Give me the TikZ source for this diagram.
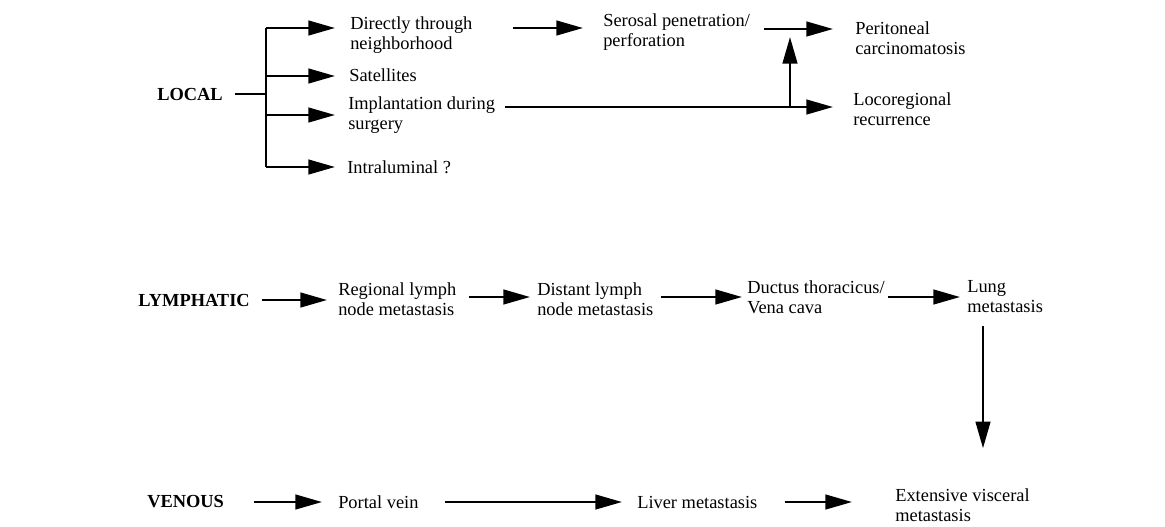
\documentclass[tikz,border=0pt]{standalone}
\usepackage{fontspec}
\setmainfont{Liberation Serif}
\usetikzlibrary{arrows.meta,positioning,calc}

\begin{document}
\begin{tikzpicture}[x=0.75pt, y=-0.75pt,
  lbl/.style={anchor=west, align=left, inner sep=0pt, font=\fontsize{13.8}{15}\selectfont},
  head/.style={lbl, font=\fontsize{13.8}{15}\selectfont\bfseries},
  line/.style={line width=1.8pt},
  arr/.style={line, -{Triangle[length=20pt, width=11pt]}}
]
  \useasboundingbox (0,0) rectangle (1165,526);

  % local spread
  \node[head] (local) at (157,94) {LOCAL};
  \node[lbl] (direct) at (350,35) {Directly through\\neighborhood};
  \node[lbl] (satel) at (349,75) {Satellites};
  \node[lbl] (implant) at (348,115) {Implantation during\\surgery};
  \node[lbl] (intral) at (347,167) {Intraluminal ?};
  \node[lbl] (serosal) at (603,32) {Serosal penetration/\\perforation};
  \node[lbl] (perit) at (855,38) {Peritoneal\\carcinomatosis};
  \node[lbl] (locoreg) at (853,109) {Locoregional\\recurrence};

  \coordinate (fork) at (266,94);
  \coordinate (ftop) at (266,28);
  \coordinate (fsat) at (266,76);
  \coordinate (fimp) at (266,115);
  \coordinate (fbot) at (266,167);
  \coordinate (split) at (790,107);

  \draw[line] ($(local.east)+(12,0)$) -- (fork);
  \draw[line] (ftop) -- (fbot);
  \draw[arr] (ftop) -- ($(direct.west)+(-15,-7)$);
  \draw[arr] (fsat) -- ($(satel.west)+(-14,1)$);
  \draw[arr] (fimp) -- ($(implant.west)+(-13,0)$);
  \draw[arr] (fbot) -- ($(intral.west)+(-12,0)$);
  \draw[arr] ($(direct.east)+(40,-7)$) -- ($(serosal.west)+(-20,-4)$);
  \draw[arr] ($(serosal.east)+(14,-3)$) -- ($(perit.west)+(-22,-9)$);
  \draw[arr] ($(implant.east)+(10,-8)$) -- ($(locoreg.west)+(-20,-2)$);
  \draw[arr] (split) -- ++(0,-70);

  % lymphatic spread
  \node[head] (lymph) at (138,300) {LYMPHATIC};
  \node[lbl] (regional) at (338,299) {Regional lymph\\node metastasis};
  \node[lbl] (distant) at (537,299) {Distant lymph\\node metastasis};
  \node[lbl] (ductus) at (747,297) {Ductus thoracicus/\\Vena cava};
  \node[lbl] (lung) at (967,297) {Lung\\metastasis};

  \draw[arr] ($(lymph.east)+(12,0)$) -- ($(regional.west)+(-11,1)$);
  \draw[arr] ($(regional.east)+(12,-2)$) -- ($(distant.west)+(-7,-2)$);
  \draw[arr] ($(distant.east)+(7,-2)$) -- ($(ductus.west)+(-5,0)$);
  \draw[arr] ($(ductus.east)+(3,0)$) -- ($(lung.west)+(-7,0)$);

  % venous spread
  \node[head] (venous) at (147,502) {VENOUS};
  \node[lbl] (portal) at (338,502) {Portal vein};
  \node[lbl] (liver) at (637,502) {Liver metastasis};
  \node[lbl] (extens) at (895,505) {Extensive visceral\\metastasis};

  \draw[arr] ($(venous.east)+(30,0)$) -- ($(portal.west)+(-16,0)$);
  \draw[arr] ($(portal.east)+(26,0)$) -- ($(liver.west)+(-15,0)$);
  \draw[arr] ($(liver.east)+(27,0)$) -- ($(extens.west)+(-43,-3)$);
  \draw[arr] ($(lung.south west)+(16,13)$) -- ($(extens.north west)+(88,-40)$);
\end{tikzpicture}
\end{document}
